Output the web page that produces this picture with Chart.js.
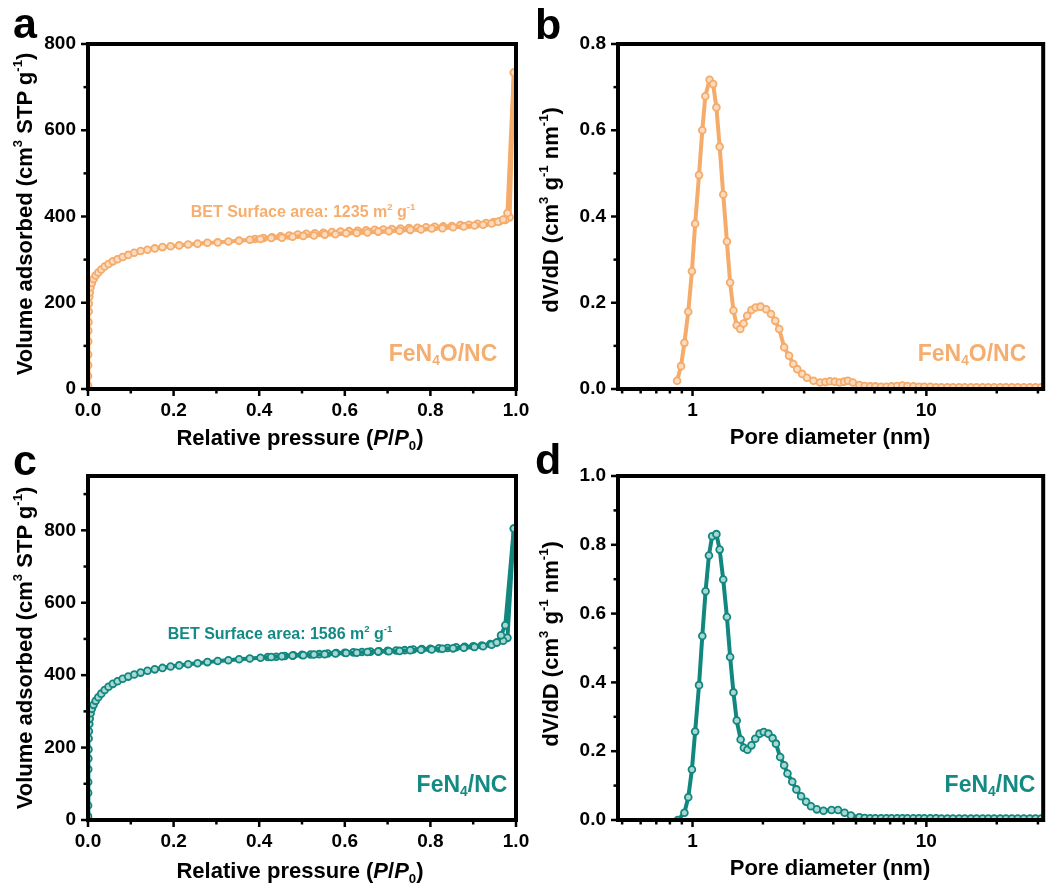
<!DOCTYPE html>
<html>
<head>
<meta charset="utf-8">
<script src="https://cdn.jsdelivr.net/npm/chart.js@4"></script>
<style>
  body { margin: 0; background: #fff; font-family: "Liberation Sans", Arial, sans-serif; font-weight: bold; }
  #wrap { position: relative; width: 1049px; height: 888px; overflow: hidden; }
  canvas { position: absolute; left: 0; top: 0; }
  .t { position: absolute; white-space: nowrap; transform: translate(-50%, -50%); line-height: 1; }
  .rot { transform: translate(-50%, -50%) rotate(-90deg); }
  sup { font-size: 0.6em; vertical-align: 0.75em; line-height: 0; }
  sub { font-size: 0.6em; vertical-align: -0.35em; line-height: 0; }
  .letter { position: absolute; font-size: 43px; line-height: 1; }
</style>
</head>
<body>
<div id="wrap">
  <canvas id="ca" width="1049" height="888"></canvas>
  <canvas id="cb" width="1049" height="888"></canvas>
  <canvas id="cc" width="1049" height="888"></canvas>
  <canvas id="cd" width="1049" height="888"></canvas>

  <div class="letter" style="left:13px; top:2px;">a</div>
  <div class="letter" style="left:535px; top:3px;">b</div>
  <div class="letter" style="left:13px; top:439px;">c</div>
  <div class="letter" style="left:535px; top:438px;">d</div>

  <div class="t rot" style="left:25px; top:214px; font-size:22px;">Volume adsorbed (cm<sup>3</sup> STP g<sup>-1</sup>)</div>
  <div class="t rot" style="left:551px; top:210px; font-size:22px;">dV/dD (cm<sup>3</sup> g<sup>-1</sup> nm<sup>-1</sup>)</div>
  <div class="t rot" style="left:25px; top:648px; font-size:22px;">Volume adsorbed (cm<sup>3</sup> STP g<sup>-1</sup>)</div>
  <div class="t rot" style="left:551px; top:644px; font-size:22px;">dV/dD (cm<sup>3</sup> g<sup>-1</sup> nm<sup>-1</sup>)</div>

  <div class="t" style="left:300px; top:438px; font-size:22px;">Relative pressure (<i>P</i>/<i>P</i><sub>0</sub>)</div>
  <div class="t" style="left:830px; top:437px; font-size:22px;">Pore diameter (nm)</div>
  <div class="t" style="left:300px; top:871px; font-size:22px;">Relative pressure (<i>P</i>/<i>P</i><sub>0</sub>)</div>
  <div class="t" style="left:830px; top:868px; font-size:22px;">Pore diameter (nm)</div>

  <div class="t" style="left:303px; top:212px; font-size:16px; color:#F5AE6F;">BET Surface area: 1235 m<sup>2</sup> g<sup>-1</sup></div>
  <div class="t" style="left:443px; top:353px; font-size:23px; color:#F5AE6F;">FeN<sub>4</sub>O/NC</div>
  <div class="t" style="left:972px; top:353px; font-size:23px; color:#F5AE6F;">FeN<sub>4</sub>O/NC</div>
  <div class="t" style="left:280px; top:634px; font-size:16px; color:#138A84;">BET Surface area: 1586 m<sup>2</sup> g<sup>-1</sup></div>
  <div class="t" style="left:462px; top:784px; font-size:23px; color:#138A84;">FeN<sub>4</sub>/NC</div>
  <div class="t" style="left:990px; top:784px; font-size:23px; color:#138A84;">FeN<sub>4</sub>/NC</div>
</div>

<script>
// ---- data ----
// a: FeN4O/NC isotherm
const aAdsP = [0.0001,0.0002,0.0003,0.0004,0.0006,0.0008,0.001,0.0015,0.002,0.003,0.004,0.006,0.009,0.013,0.018,0.024,0.031,0.039,0.048,0.058,0.069,0.081,0.094,0.108,0.123,0.139,0.156,0.174,0.193,0.213,0.234,0.256,0.279,0.303,0.328,0.353,0.378,0.403,0.428,0.453,0.478,0.503,0.528,0.553,0.578,0.603,0.628,0.653,0.678,0.703,0.728,0.753,0.778,0.803,0.828,0.853,0.878,0.903,0.923,0.943,0.958,0.970,0.980,0.995];
const aAdsV = [8,30,55,80,110,135,155,180,198,214,224,236,246,255,263,270,277,284,290,296,301,306,311,316,320,323,326,329,331,333,335,337,339,340,342,344,346,348,350,351,353,355,356,358,359,361,362,363,365,366,367,369,370,372,373,375,377,379,381,384,388,393,408,734];
const aDesP = [0.995,0.985,0.975,0.962,0.948,0.93,0.91,0.89,0.87,0.85,0.83,0.81,0.79,0.77,0.75,0.73,0.71,0.69,0.67,0.65,0.63,0.61,0.59,0.57,0.55,0.53,0.51,0.49,0.47,0.45,0.43,0.41,0.39];
const aDesV = [734,398,392,389,387,385,383,381,380,378,377,376,375,374,373,372,371,370,369,368,367,366,365,364,362,361,360,358,356,354,352,350,348];

// c: FeN4/NC isotherm
const cAdsP = [0.0001,0.0002,0.0003,0.0004,0.0006,0.0008,0.001,0.0015,0.002,0.003,0.004,0.006,0.009,0.013,0.018,0.024,0.031,0.039,0.048,0.058,0.069,0.081,0.094,0.108,0.123,0.139,0.156,0.174,0.193,0.213,0.234,0.256,0.279,0.303,0.328,0.353,0.378,0.403,0.428,0.453,0.478,0.503,0.528,0.553,0.578,0.603,0.628,0.653,0.678,0.703,0.728,0.753,0.778,0.803,0.828,0.853,0.878,0.903,0.923,0.943,0.955,0.965,0.975,0.995];
const cAdsV = [10,40,75,105,140,170,195,225,245,265,280,295,307,318,329,339,349,359,368,376,383,390,396,402,407,412,416,420,424,427,430,433,436,439,441,444,446,448,450,452,454,455,457,458,460,461,462,464,465,466,467,469,470,471,473,474,476,478,480,484,490,510,538,805];
const cDesP = [0.995,0.98,0.97,0.955,0.94,0.92,0.9,0.88,0.86,0.84,0.82,0.8,0.78,0.76,0.74,0.72,0.7,0.68,0.66,0.64,0.62,0.6,0.58,0.56,0.54,0.52,0.5,0.48,0.46,0.44,0.42];
const cDesV = [805,503,495,490,486,482,480,478,477,475,474,473,472,471,469,468,467,466,465,464,463,462,461,460,458,457,456,455,453,451,450];

// b: FeN4O/NC pore size distribution
const bD = [0.859,0.893,0.923,0.959,0.994,1.026,1.066,1.101,1.134,1.183,1.225,1.265,1.306,1.353,1.403,1.448,1.496,1.545,1.600,1.653,1.713,1.786,1.862,1.954,2.064,2.166,2.259,2.348,2.465,2.587,2.698,2.804,2.942,3.086,3.29,3.51,3.70,3.87,4.06,4.26,4.45,4.62,4.85,5.17,5.45,5.75,6.05,6.4,6.75,7.1,7.5,7.9,8.3,8.8,9.3,9.8,10.4,11.0,11.6,12.3,13.0,13.8,14.6,15.5,16.4,17.4,18.4,19.5,20.7,21.9,23.2,24.6,26.1,27.7,29.3,31.0];
const bV = [0.019,0.053,0.107,0.179,0.273,0.383,0.496,0.600,0.679,0.717,0.707,0.653,0.562,0.451,0.342,0.247,0.182,0.148,0.139,0.152,0.170,0.183,0.189,0.191,0.185,0.174,0.158,0.139,0.097,0.077,0.058,0.046,0.035,0.026,0.019,0.015,0.016,0.018,0.017,0.015,0.017,0.019,0.015,0.009,0.007,0.006,0.006,0.005,0.005,0.006,0.007,0.008,0.007,0.006,0.005,0.005,0.005,0.004,0.004,0.004,0.004,0.004,0.004,0.004,0.004,0.004,0.004,0.004,0.004,0.004,0.004,0.004,0.004,0.004,0.004,0.004];

// d: FeN4/NC pore size distribution
const dD = [0.865,0.923,0.959,0.994,1.026,1.066,1.101,1.137,1.175,1.213,1.265,1.306,1.353,1.403,1.448,1.496,1.545,1.606,1.658,1.717,1.786,1.855,1.935,2.016,2.111,2.200,2.274,2.370,2.465,2.547,2.670,2.780,2.913,3.06,3.21,3.40,3.63,3.93,4.19,4.47,4.76,5.17,5.45,5.75,6.05,6.4,6.75,7.1,7.5,7.9,8.3,8.8,9.3,9.8,10.4,11.0,11.6,12.3,13.0,13.8,14.6,15.5,16.4,17.4,18.4,19.5,20.7,21.9,23.2,24.6,26.1,27.7,29.3,31.0];
const dV = [0.000,0.021,0.066,0.147,0.257,0.392,0.535,0.665,0.769,0.825,0.831,0.786,0.699,0.590,0.474,0.371,0.289,0.234,0.210,0.204,0.217,0.236,0.251,0.256,0.251,0.238,0.222,0.183,0.159,0.135,0.111,0.089,0.069,0.053,0.040,0.031,0.027,0.029,0.029,0.021,0.013,0.008,0.006,0.005,0.005,0.005,0.005,0.005,0.005,0.005,0.005,0.005,0.005,0.005,0.005,0.005,0.004,0.004,0.004,0.004,0.004,0.004,0.004,0.004,0.004,0.004,0.004,0.004,0.004,0.004,0.004,0.004,0.004,0.004];

// ticks
const isoXMajor = [0, 0.2, 0.4, 0.6, 0.8, 1.0];
const isoXMinor = [0.1, 0.3, 0.5, 0.7, 0.9];
const aYMajor = [0, 200, 400, 600, 800];
const aYMinor = [100, 300, 500, 700];
const cYMajor = [0, 200, 400, 600, 800];
const cYMinor = [100, 300, 500, 700, 900];
const poreXMajor = [1, 10];
const poreXMinor = [0.5, 0.6, 0.7, 0.8, 0.9, 2, 3, 4, 5, 6, 7, 8, 9, 20, 30];
const bYMajor = [0, 0.2, 0.4, 0.6, 0.8];
const bYMinor = [0.1, 0.3, 0.5, 0.7];
const dYMajor = [0, 0.2, 0.4, 0.6, 0.8, 1.0];
const dYMinor = [0.1, 0.3, 0.5, 0.7, 0.9];

const ORANGE = '#F5AB6A', ORANGE_FILL = '#FCDCC0';
const TEAL = '#11877F', TEAL_FILL = '#A9D8D3';
const FONT = { family: '"Liberation Sans", Arial, sans-serif', size: 19, weight: 'bold' };

function pts(xs, ys) { return xs.map((x, i) => ({ x: x, y: ys[i] })); }

// frame + outward ticks (major and minor)
const frameTicks = {
  id: 'frameTicks',
  afterDatasetsDraw(chart, args, opts) {
    const { ctx, chartArea: a, scales } = chart;
    ctx.save();
    ctx.strokeStyle = '#000';
    ctx.lineWidth = 2.5;
    ctx.lineCap = 'butt';
    const tick = (axis, vals, len) => {
      vals.forEach(v => {
        ctx.beginPath();
        if (axis === 'x') {
          const p = scales.x.getPixelForValue(v);
          ctx.moveTo(p, a.bottom); ctx.lineTo(p, a.bottom + len);
        } else {
          const p = scales.y.getPixelForValue(v);
          ctx.moveTo(a.left, p); ctx.lineTo(a.left - len, p);
        }
        ctx.stroke();
      });
    };
    tick('x', opts.xMajor, 7); tick('x', opts.xMinor, 4.5);
    tick('y', opts.yMajor, 7); tick('y', opts.yMinor, 4.5);
    ctx.lineWidth = 4;
    ctx.strokeRect(a.left, a.top, a.right - a.left, a.bottom - a.top);
    ctx.restore();
  }
};

function series(data, color, fill) {
  return {
    data: data, showLine: true, borderColor: color, borderWidth: 4,
    pointRadius: 3.4, pointBorderWidth: 1.8, pointBorderColor: color,
    pointBackgroundColor: fill, tension: 0
  };
}

function makeChart(id, box, datasets, x, y, tk) {
  const majors = (list) => (scale) => { scale.ticks = list.map(v => ({ value: v })); };
  return new Chart(document.getElementById(id), {
    type: 'scatter',
    data: { datasets: datasets },
    options: {
      responsive: false, animation: false, events: [],
      layout: { padding: { left: box.left - 80, top: box.top, right: 1049 - box.right, bottom: 888 - box.bottom - 40 } },
      plugins: { legend: { display: false }, tooltip: { enabled: false }, frameTicks: tk },
      scales: {
        x: Object.assign({
          grid: { display: false, drawTicks: false }, border: { display: false },
          afterBuildTicks: majors(tk.xMajor),
          afterFit: (s) => { s.height = 40; },
          ticks: { font: FONT, color: '#000', padding: 10, maxRotation: 0, autoSkip: false, callback: x.fmt }
        }, x.opt),
        y: Object.assign({
          grid: { display: false, drawTicks: false }, border: { display: false },
          afterBuildTicks: majors(tk.yMajor),
          afterFit: (s) => { s.width = 80; },
          ticks: { font: FONT, color: '#000', padding: 12, callback: y.fmt }
        }, y.opt)
      }
    },
    plugins: [frameTicks]
  });
}

const fix1 = (v) => Number(v).toFixed(1);
const int = (v) => String(v);

makeChart('ca', { left: 88, top: 44, right: 516, bottom: 389 },
  [series(pts(aAdsP, aAdsV), ORANGE, ORANGE_FILL), series(pts(aDesP, aDesV), ORANGE, ORANGE_FILL)],
  { opt: { type: 'linear', min: 0, max: 1 }, fmt: fix1 },
  { opt: { type: 'linear', min: 0, max: 800 }, fmt: int },
  { xMajor: isoXMajor, xMinor: isoXMinor, yMajor: aYMajor, yMinor: aYMinor });

makeChart('cb', { left: 618, top: 44, right: 1046, bottom: 389 },
  [series(pts(bD, bV), ORANGE, ORANGE_FILL)],
  { opt: { type: 'logarithmic', min: 0.48, max: 31.6 }, fmt: int },
  { opt: { type: 'linear', min: 0, max: 0.8 }, fmt: fix1 },
  { xMajor: poreXMajor, xMinor: poreXMinor, yMajor: bYMajor, yMinor: bYMinor });

makeChart('cc', { left: 88, top: 476, right: 516, bottom: 820 },
  [series(pts(cAdsP, cAdsV), TEAL, TEAL_FILL), series(pts(cDesP, cDesV), TEAL, TEAL_FILL)],
  { opt: { type: 'linear', min: 0, max: 1 }, fmt: fix1 },
  { opt: { type: 'linear', min: 0, max: 950 }, fmt: int },
  { xMajor: isoXMajor, xMinor: isoXMinor, yMajor: cYMajor, yMinor: cYMinor });

makeChart('cd', { left: 618, top: 476, right: 1046, bottom: 820 },
  [series(pts(dD, dV), TEAL, TEAL_FILL)],
  { opt: { type: 'logarithmic', min: 0.48, max: 31.6 }, fmt: int },
  { opt: { type: 'linear', min: 0, max: 1.0 }, fmt: fix1 },
  { xMajor: poreXMajor, xMinor: poreXMinor, yMajor: dYMajor, yMinor: dYMinor });
</script>
</body>
</html>
